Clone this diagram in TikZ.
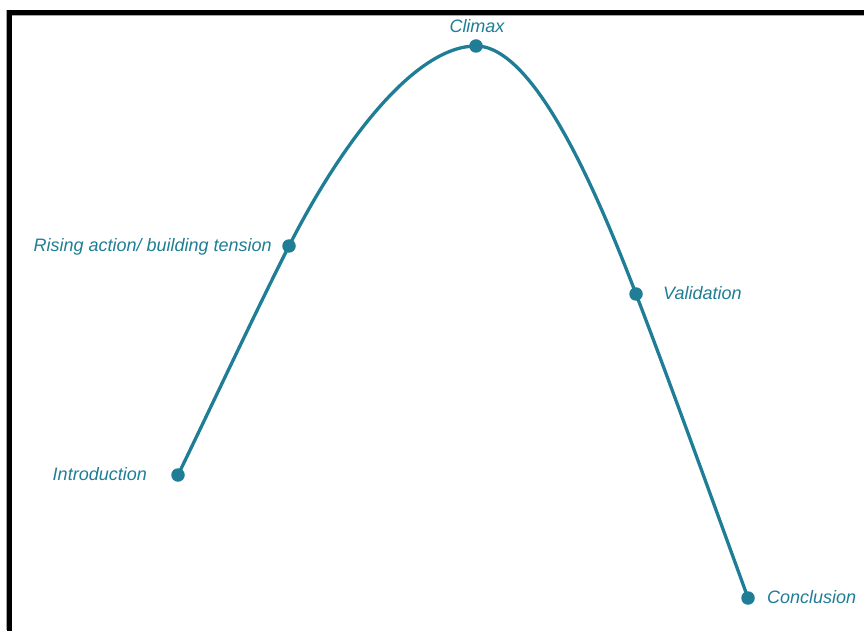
\documentclass[tikz,border=0pt]{standalone}
\usepackage{fontspec}
\setmainfont{Liberation Sans}
\definecolor{arcteal}{RGB}{31,126,150}
\begin{document}
\begin{tikzpicture}[x=1pt,y=1pt,
    arc/.style={draw=arcteal,line width=3.3pt,line cap=round},
    dot/.style={circle,fill=arcteal,inner sep=0pt,minimum size=13.5pt},
    stage/.style={text=arcteal,font=\fontsize{18}{21}\selectfont\itshape,inner sep=0pt}]
  \useasboundingbox (0,0) rectangle (864,630);
  \fill[white] (0,0) rectangle (864,630);

  % frame with a faint shadow line
  \draw[gray!70,line width=1pt] (6.5,0) -- (6.5,620);
  \draw[gray!70,line width=1pt] (12,614.5) -- (870,614.5);
  \draw[black,line width=5pt] (9.5,-20) -- (9.5,617.5) -- (880,617.5);

  % stage points along the arc
  \coordinate (intro) at (178,155);
  \coordinate (rising) at (289,384);
  \coordinate (climax) at (476,584);
  \coordinate (valid) at (636,336);
  \coordinate (concl) at (748,32);

  % the story arc
  \draw[arc] (intro) .. controls +(64:75) and +(243:75) .. (rising)
                     .. controls +(63:120) and +(180:60) .. (climax)
                     .. controls +(0:60) and +(111:100) .. (valid)
                     .. controls +(-69:100) and +(110:100) .. (concl);

  \node[dot] (introdot) at (intro) {};
  \node[dot] (risingdot) at (rising) {};
  \node[dot] (climaxdot) at (climax) {};
  \node[dot] (validdot) at (valid) {};
  \node[dot] (concldot) at (concl) {};

  % stage labels
  \node[stage,anchor=base] (climaxlbl) at (477,597) {Climax};
  \node[stage,anchor=base east] (risinglbl) at (272,378) {Rising action/ building tension};
  \node[stage,anchor=base west] (validlbl) at (663,330.5) {Validation};
  \node[stage,anchor=base east] (introlbl) at (147,150) {Introduction};
  \node[stage,anchor=base west] (concllbl) at (767,27) {Conclusion};
\end{tikzpicture}
\end{document}
